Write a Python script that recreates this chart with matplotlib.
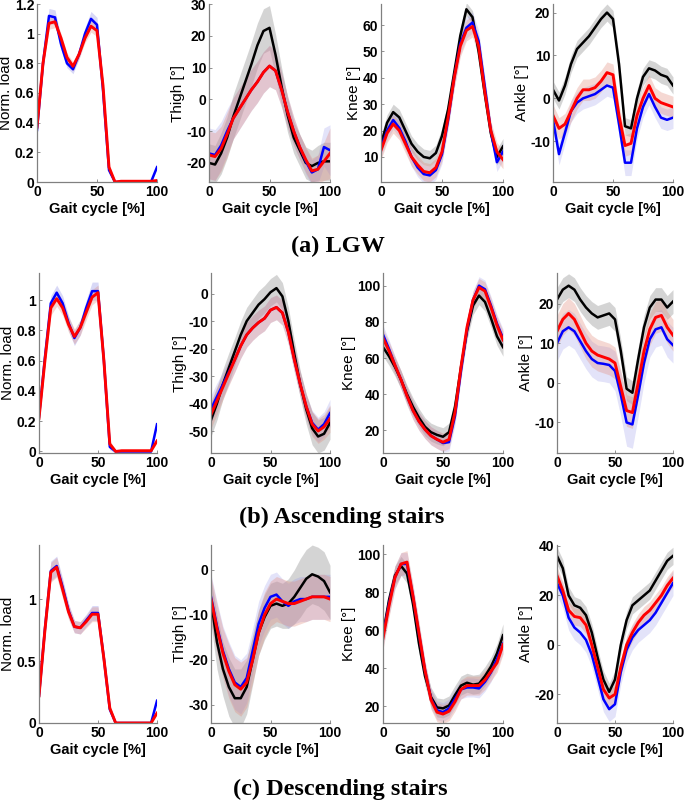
import numpy as np
import matplotlib.pyplot as plt
from matplotlib.ticker import FormatStrFormatter

# gait cycle sample points [%]
gait = [0, 5, 10, 15, 20, 25, 30, 35, 40, 45, 50, 55, 60, 65, 70, 75, 80, 85, 90, 95, 100]

###############################################################################
# (a) LGW
###############################################################################
lgw_load_blue = [0.35, 0.80, 1.12, 1.11, 0.93, 0.80, 0.76, 0.86, 1.00, 1.10, 1.06, 0.62, 0.08, 0.00, 0.00, 0.00, 0.00, 0.00, 0.00, 0.00, 0.10]
lgw_load_red = [0.37, 0.80, 1.07, 1.08, 0.97, 0.84, 0.78, 0.86, 0.97, 1.05, 1.02, 0.65, 0.10, 0.00, 0.005, 0.005, 0.005, 0.005, 0.005, 0.005, 0.01]
lgw_load_blue_sd = [0.02, 0.04, 0.05, 0.05, 0.04, 0.03, 0.03, 0.03, 0.04, 0.05, 0.05, 0.04, 0.02, 0.01, 0.01, 0.01, 0.01, 0.01, 0.01, 0.01, 0.01]
lgw_load_red_sd = [0.02, 0.03, 0.04, 0.04, 0.03, 0.03, 0.03, 0.03, 0.03, 0.04, 0.04, 0.03, 0.02, 0.01, 0.01, 0.01, 0.01, 0.01, 0.01, 0.01, 0.01]

lgw_thigh_black = [-20, -20.5, -17, -12, -5.5, 0, 5.5, 11, 17, 21.5, 22.5, 14, 4, -5, -12, -16, -20, -21, -20, -19.5, -19.5]
lgw_thigh_blue = [-17, -17.5, -14.5, -10, -6, -3, 0, 3, 5.5, 8.5, 10.5, 9, 3, -4, -10, -15, -19.5, -23, -22, -15, -16]
lgw_thigh_red = [-17.5, -18, -15.5, -11, -6, -3, 0, 3, 5.5, 8.5, 10.5, 9, 3, -4, -10, -15, -19, -22.5, -22, -19.5, -17]
lgw_thigh_black_sd = [6, 6, 6.5, 6.5, 7, 7, 7, 7, 7, 7, 7, 6.5, 6, 5.5, 5, 5, 5, 5, 5.5, 6, 6]
lgw_thigh_blue_sd = [8, 8, 7.5, 7, 6.5, 6.5, 6.5, 6.5, 6.5, 6.5, 6.5, 6, 5.5, 5, 4.5, 4, 4, 4, 4.5, 6, 8]
lgw_thigh_red_sd = [7.5, 7.5, 7, 7, 6.5, 6.5, 6.5, 6.5, 6.5, 6.5, 6.5, 6, 5.5, 5, 4.5, 4, 4, 4, 4.5, 6, 8]

lgw_knee_black = [15, 23, 27, 25, 20, 15, 12, 10, 9.5, 11.5, 18, 28, 42, 56, 66, 63, 50, 34, 19, 10, 14]
lgw_knee_blue = [13.5, 20, 24, 21, 16, 10, 6, 3.5, 3, 5, 11, 24, 40, 53, 59, 61, 54, 37, 20, 8, 12]
lgw_knee_red = [12.5, 19, 22.5, 20, 15, 10, 7, 4.5, 4, 6, 12, 25, 40, 52, 58, 59.5, 52, 35, 20, 12, 9]
lgw_knee_black_sd = [3, 3, 3, 3, 3, 3, 3, 3, 3, 3, 3, 3, 3, 3, 2.5, 2.5, 3, 3, 3, 3, 3]
lgw_knee_blue_sd = [3.5, 3.5, 3.5, 3.5, 3.5, 3.5, 3.5, 3.5, 3.5, 3.5, 3.5, 3.5, 4, 4, 4, 4, 4, 4, 3.5, 3.5, 3.5]
lgw_knee_red_sd = [3.5, 3.5, 3.5, 3.5, 3.5, 3.5, 3.5, 3.5, 3.5, 3.5, 3.5, 3.5, 4, 4, 4, 4, 4, 4, 3.5, 3.5, 3.5]

lgw_ankle_black = [2, -0.5, 3, 8, 11.5, 13, 14.5, 16.5, 18.5, 20, 18.5, 8, -6.5, -7, 0, 5, 7, 6.5, 5.5, 5, 3]
lgw_ankle_blue = [-5, -13, -8, -3, -1, 0, 0.5, 1, 2, 3, 2.5, -6, -15, -15, -7, -2, 1, -2, -4.5, -5, -4.5]
lgw_ankle_red = [-4, -7, -6, -3, 0, 2, 2, 2.5, 4, 6, 5.5, -4, -11, -10.5, -4, 0, 3, 0, -1, -1.5, -2]
lgw_ankle_black_sd = [2, 2, 2, 2, 2, 2, 2, 2, 2, 2, 2, 2, 2, 2, 2, 2, 2, 2, 2, 2, 2]
lgw_ankle_blue_sd = [2.5, 2.5, 2.5, 2.5, 2.5, 2.5, 2.5, 2.5, 2.5, 2.5, 2.5, 2.5, 3, 3, 2.5, 2.5, 2.5, 2.5, 2.5, 2.5, 2.5]
lgw_ankle_red_sd = [2.5, 2.5, 2.5, 2.5, 2.5, 2.5, 2.5, 2.5, 2.5, 2.5, 2.5, 2.5, 2.5, 2.5, 2.5, 2.5, 2.5, 2.5, 2.5, 2.5, 2.5]

###############################################################################
# (b) Ascending stairs
###############################################################################
asc_load_blue = [0.23, 0.62, 0.98, 1.05, 0.98, 0.85, 0.75, 0.82, 0.95, 1.06, 1.06, 0.60, 0.03, 0.00, 0.00, 0.00, 0.00, 0.00, 0.00, 0.00, 0.18]
asc_load_red = [0.22, 0.60, 0.95, 1.01, 0.95, 0.84, 0.76, 0.82, 0.92, 1.02, 1.05, 0.60, 0.05, 0.00, 0.005, 0.005, 0.005, 0.005, 0.005, 0.005, 0.07]
asc_load_blue_sd = [0.02, 0.04, 0.05, 0.05, 0.05, 0.05, 0.05, 0.05, 0.05, 0.06, 0.06, 0.04, 0.02, 0.01, 0.01, 0.01, 0.01, 0.01, 0.01, 0.01, 0.01]
asc_load_red_sd = [0.02, 0.04, 0.05, 0.05, 0.05, 0.05, 0.05, 0.05, 0.05, 0.05, 0.05, 0.04, 0.02, 0.01, 0.01, 0.01, 0.01, 0.01, 0.01, 0.01, 0.01]

asc_thigh_black = [-46, -40, -33, -27, -21, -15, -10, -7, -4, -2, 0.5, 2, -1, -10, -22, -33, -42, -49, -52, -51, -47]
asc_thigh_blue = [-42, -37.5, -33, -28.5, -24, -19, -15, -12.5, -10.5, -9, -6, -5, -7, -14, -24, -33, -41, -47, -49.5, -47.5, -43.5]
asc_thigh_red = [-44, -39, -34, -29, -24, -19, -15, -12.5, -10.5, -9, -6, -5, -7, -14, -24, -33, -41, -47.5, -50, -48.5, -45.5]
asc_thigh_black_sd = [6, 6, 5.5, 5.5, 5, 5, 5, 5, 5, 5, 5, 5, 5, 5, 5, 5, 5.5, 6, 6, 6, 6]
asc_thigh_blue_sd = [5, 5, 4.5, 4.5, 4.5, 4.5, 4.5, 4.5, 4.5, 4.5, 4.5, 4.5, 4.5, 4.5, 4.5, 4.5, 4.5, 4.5, 4.5, 4.5, 5]
asc_thigh_red_sd = [5, 5, 4.5, 4.5, 4.5, 4.5, 4.5, 4.5, 4.5, 4.5, 4.5, 4.5, 4.5, 4.5, 4.5, 4.5, 4.5, 4.5, 4.5, 4.5, 5]

asc_knee_black = [66, 61, 55, 48, 40, 33, 27, 22, 19, 17.5, 16.5, 19, 33, 55, 75, 89, 94.5, 91, 82, 72, 66]
asc_knee_blue = [73, 65, 56, 48, 39, 31, 25, 20.5, 17, 15, 13, 13.5, 28, 53, 76, 92, 100, 98, 89, 79, 71]
asc_knee_red = [71, 64, 56, 48, 39, 31, 25, 20.5, 17, 15, 13.5, 15, 30, 55, 77, 92, 99, 97, 88, 78, 70]
asc_knee_black_sd = [5, 5, 5, 5, 5, 5, 5, 5, 5, 5, 5, 5, 5, 5, 5, 5, 5, 5, 5, 5, 5]
asc_knee_blue_sd = [5, 5, 5, 5, 5, 5, 5, 5, 5, 5, 5, 5, 5, 5, 5, 5, 5, 5, 5, 5, 5]
asc_knee_red_sd = [5, 5, 5, 5, 5, 5, 5, 5, 5, 5, 5, 5, 5, 5, 5, 5, 5, 5, 5, 5, 5]

asc_ankle_black = [21, 23.5, 24.5, 23.5, 21, 19, 17.5, 16.5, 17, 17.5, 16, 8, -1.5, -2.5, 6, 14, 19, 21, 21, 19, 20.5]
asc_ankle_blue = [10, 13, 14, 13, 10.5, 8, 6, 5, 4.8, 4.5, 3, -3, -10, -10.5, -3, 5, 11, 13.5, 14, 11, 9.5]
asc_ankle_red = [13, 16, 17.5, 16, 13, 10, 8, 7, 6.5, 6, 5, -1, -7, -7.5, 0, 8, 13.5, 16.5, 17, 14, 12]
asc_ankle_black_sd = [3, 3, 3, 3, 3, 3, 3, 3, 3, 3, 3, 3, 3, 3, 3, 3, 3, 3, 3, 3, 3]
asc_ankle_blue_sd = [4.5, 4.5, 4.5, 4.5, 4.5, 4.5, 4.5, 4.5, 4.5, 4.5, 5, 5.5, 6, 6, 5.5, 5, 4.5, 4.5, 4.5, 4.5, 4.5]
asc_ankle_red_sd = [4, 4, 4, 4, 4, 4, 4, 4, 4, 4, 4, 4, 4, 4, 4, 4, 4, 4, 4, 4, 4]

###############################################################################
# (c) Descending stairs
###############################################################################
desc_load_blue = [0.22, 0.76, 1.23, 1.27, 1.10, 0.91, 0.78, 0.77, 0.83, 0.89, 0.89, 0.52, 0.11, 0.00, 0.00, 0.00, 0.00, 0.00, 0.00, 0.00, 0.18]
desc_load_red = [0.22, 0.75, 1.22, 1.26, 1.08, 0.90, 0.78, 0.77, 0.82, 0.88, 0.88, 0.52, 0.12, 0.00, 0.00, 0.00, 0.00, 0.00, 0.00, 0.00, 0.08]
desc_load_blue_sd = [0.03, 0.06, 0.08, 0.08, 0.07, 0.06, 0.05, 0.05, 0.05, 0.06, 0.06, 0.05, 0.03, 0.01, 0.01, 0.01, 0.01, 0.01, 0.01, 0.01, 0.01]
desc_load_red_sd = [0.03, 0.06, 0.08, 0.08, 0.07, 0.06, 0.05, 0.05, 0.05, 0.06, 0.06, 0.05, 0.03, 0.01, 0.01, 0.01, 0.01, 0.01, 0.01, 0.01, 0.01]

desc_thigh_black = [-7, -16, -22, -26, -28.5, -28.5, -26, -20, -14, -10.5, -8, -7.5, -8, -7.5, -6, -4, -2, -1, -1.5, -2.5, -5]
desc_thigh_blue = [-6, -12.5, -18, -22, -25, -26, -24, -18, -12, -8.5, -6, -5.5, -7, -8, -7, -6.5, -6.5, -6, -6, -6, -6]
desc_thigh_red = [-6.5, -13, -18.5, -22.5, -25.5, -26.5, -25, -20, -14, -10, -7.5, -6.5, -7, -7.5, -7.5, -7, -6.5, -6, -6, -6, -6.5]
desc_thigh_black_sd = [5, 6, 6, 6.5, 6.5, 6.5, 6, 5.5, 5, 5, 5, 5, 5, 5.5, 6, 6.5, 6.5, 6.5, 6.5, 6.5, 6]
desc_thigh_blue_sd = [5, 5.5, 5.5, 6, 6, 6, 5.5, 5, 5, 5, 5, 5, 5, 5, 5, 5, 5, 5, 5, 5, 5]
desc_thigh_red_sd = [5, 5.5, 5.5, 6, 6, 6, 5.5, 5, 5, 5, 5, 5, 5, 5, 5, 5, 5, 5, 5, 5, 5]

desc_knee_black = [58, 76, 89, 94, 90, 74, 53, 36, 25, 19.5, 19, 20.5, 26, 31, 32.5, 31.5, 32, 36, 41, 48, 57.5]
desc_knee_blue = [57, 74, 88, 95, 95, 78, 58, 39, 24, 18, 17, 19, 24, 29, 30, 30, 29.5, 33, 38, 45, 53]
desc_knee_red = [56, 73, 88, 95, 96, 78, 58.5, 39, 23.5, 17, 16, 17.5, 22.5, 29, 31, 31, 31, 34, 38.5, 43, 52.5]
desc_knee_black_sd = [5, 5, 5, 5, 5, 5, 5, 5, 5, 5, 5, 5, 5, 5, 5, 5, 5, 5, 5, 5, 6]
desc_knee_blue_sd = [6, 6, 6, 6, 6, 6, 6, 5, 5, 5, 5, 5, 5, 5, 5, 5, 5, 5, 5, 5, 5]
desc_knee_red_sd = [6, 6, 6, 6, 6, 6, 6, 5, 5, 5, 5, 5, 5, 5, 5, 5, 5, 5, 5, 5, 5]

desc_ankle_black = [36, 31, 20, 16, 15, 12, 5, -5, -14, -19, -14, 0, 10, 16, 18, 20, 22, 26, 30, 34, 36]
desc_ankle_blue = [25, 20, 11, 7, 5, 2, -4, -13, -22, -26, -24, -11, -2, 3, 6, 8, 10, 13, 17, 21, 25]
desc_ankle_red = [28, 22, 14, 11.5, 11, 8, 0, -9, -18, -21.5, -20, -9, 0, 5, 9, 12, 14, 17, 20, 24, 27]
desc_ankle_black_sd = [3.5, 3.5, 3.5, 3.5, 3.5, 3.5, 3.5, 3.5, 3.5, 3.5, 3.5, 3.5, 3.5, 3.5, 3.5, 3.5, 3.5, 3.5, 3.5, 3.5, 3.5]
desc_ankle_blue_sd = [5, 5, 5, 5, 5, 5, 5, 5, 5, 5, 5, 5, 5, 5, 5, 5, 5, 5, 5, 5, 5]
desc_ankle_red_sd = [3.5, 3.5, 3.5, 3.5, 3.5, 3.5, 3.5, 3.5, 3.5, 3.5, 3.5, 3.5, 3.5, 3.5, 3.5, 3.5, 3.5, 3.5, 3.5, 3.5, 3.5]

ylabels = ['Norm. load', 'Thigh [°]', 'Knee [°]', 'Ankle [°]']
captions = ['(a) LGW', '(b) Ascending stairs', '(c) Descending stairs']

###############################################################################
# Plot
###############################################################################
W, H = 685, 801
fig = plt.figure(figsize=(W / 100, H / 100), dpi=100)

band_gray = '#909090'
band_blue = '#9090e8'
band_red = '#e08878'


def panel(ax, lines, ylim, yticks, ylabel, fmt='%g'):
    # lines: list of (mean, sd, colour, band colour, band alpha, line width)
    for mean, sd, col, bcol, balpha, lw in lines:
        m = np.array(mean)
        s = np.array(sd)
        ax.fill_between(gait, m - s, m + s, color=bcol, alpha=balpha, lw=0)
        ax.plot(gait, m, color=col, lw=lw, solid_joinstyle='round')
    ax.set_xlim(0, 100)
    ax.set_ylim(*ylim)
    ax.set_xticks([0, 50, 100])
    ax.set_yticks(yticks)
    ax.yaxis.set_major_formatter(FormatStrFormatter(fmt))
    for side in ['top', 'right']:
        ax.spines[side].set_visible(False)
    for side in ['left', 'bottom']:
        ax.spines[side].set_color('#808080')
        ax.spines[side].set_linewidth(0.9)
    ax.tick_params(direction='in', length=2, width=0.6, color='#808080',
                   labelsize=10, pad=2)
    for lab in ax.get_xticklabels() + ax.get_yticklabels():
        lab.set_fontweight('bold')
        lab.set_family('Liberation Sans')
    ax.set_xlabel('Gait cycle [%]', fontsize=10.5, fontweight='bold',
                  family='Liberation Sans', labelpad=2)
    ax.set_ylabel(ylabel, fontsize=11, family='Liberation Sans', labelpad=1)


def add_axes(left, top, width, height):
    return fig.add_axes([left / W, 1 - (top + height) / H, width / W, height / H])


def three(black, black_sd, blue, blue_sd, red, red_sd):
    return [(black, black_sd, 'black', band_gray, 0.38, 1.8),
            (blue, blue_sd, '#0000ff', band_blue, 0.25, 1.8),
            (red, red_sd, '#ff0000', band_red, 0.32, 2.1)]


def two(blue, blue_sd, red, red_sd):
    return [(blue, blue_sd, '#0000ff', band_blue, 0.35, 1.8),
            (red, red_sd, '#ff0000', band_red, 0.32, 2.1)]


# row (a)
lefts_a = [37, 209, 381, 553]
ax = add_axes(lefts_a[0], 4, 120, 178)
panel(ax, two(lgw_load_blue, lgw_load_blue_sd, lgw_load_red, lgw_load_red_sd),
      (0, 1.2), [0, 0.2, 0.4, 0.6, 0.8, 1.0, 1.2], ylabels[0])
ax = add_axes(lefts_a[1], 4, 121, 178)
panel(ax, three(lgw_thigh_black, lgw_thigh_black_sd, lgw_thigh_blue, lgw_thigh_blue_sd,
                lgw_thigh_red, lgw_thigh_red_sd),
      (-26, 30), [-20, -10, 0, 10, 20, 30], ylabels[1])
ax = add_axes(lefts_a[2], 4, 122, 178)
panel(ax, three(lgw_knee_black, lgw_knee_black_sd, lgw_knee_blue, lgw_knee_blue_sd,
                lgw_knee_red, lgw_knee_red_sd),
      (0.5, 68), [10, 20, 30, 40, 50, 60], ylabels[2])
ax = add_axes(lefts_a[3], 4, 120, 178)
panel(ax, three(lgw_ankle_black, lgw_ankle_black_sd, lgw_ankle_blue, lgw_ankle_blue_sd,
                lgw_ankle_red, lgw_ankle_red_sd),
      (-19.5, 22), [-10, 0, 10, 20], ylabels[3])

# row (b)
lefts_b = [39, 211, 383, 557]
ax = add_axes(lefts_b[0], 273, 118, 180)
panel(ax, two(asc_load_blue, asc_load_blue_sd, asc_load_red, asc_load_red_sd),
      (-0.01, 1.18), [0, 0.2, 0.4, 0.6, 0.8, 1.0], ylabels[0])
ax = add_axes(lefts_b[1], 273, 119, 180)
panel(ax, three(asc_thigh_black, asc_thigh_black_sd, asc_thigh_blue, asc_thigh_blue_sd,
                asc_thigh_red, asc_thigh_red_sd),
      (-58, 7.5), [-50, -40, -30, -20, -10, 0], ylabels[1])
ax = add_axes(lefts_b[2], 273, 120, 180)
panel(ax, three(asc_knee_black, asc_knee_black_sd, asc_knee_blue, asc_knee_blue_sd,
                asc_knee_red, asc_knee_red_sd),
      (7.5, 107), [20, 40, 60, 80, 100], ylabels[2])
ax = add_axes(lefts_b[3], 273, 116, 180)
panel(ax, three(asc_ankle_black, asc_ankle_black_sd, asc_ankle_blue, asc_ankle_blue_sd,
                asc_ankle_red, asc_ankle_red_sd),
      (-17.7, 27.7), [-10, 0, 10, 20], ylabels[3])

# row (c)
ax = add_axes(lefts_b[0], 545, 118, 178)
panel(ax, two(desc_load_blue, desc_load_blue_sd, desc_load_red, desc_load_red_sd),
      (0, 1.44), [0, 0.5, 1.0], ylabels[0])
ax = add_axes(lefts_b[1], 545, 119, 178)
panel(ax, three(desc_thigh_black, desc_thigh_black_sd, desc_thigh_blue, desc_thigh_blue_sd,
                desc_thigh_red, desc_thigh_red_sd),
      (-34, 5.5), [-30, -20, -10, 0], ylabels[1])
ax = add_axes(lefts_b[2], 545, 120, 178)
panel(ax, three(desc_knee_black, desc_knee_black_sd, desc_knee_blue, desc_knee_blue_sd,
                desc_knee_red, desc_knee_red_sd),
      (11.3, 105), [20, 40, 60, 80, 100], ylabels[2])
ax = add_axes(lefts_b[3], 545, 116, 178)
panel(ax, three(desc_ankle_black, desc_ankle_black_sd, desc_ankle_blue, desc_ankle_blue_sd,
                desc_ankle_red, desc_ankle_red_sd),
      (-31.6, 40.4), [-20, 0, 20, 40], ylabels[3])

# captions
for cap, xc, yc in zip(captions, [338, 342, 340], [246, 517, 789]):
    fig.text(xc / W, 1 - yc / H, cap, ha='center', va='center', fontsize=17.5,
             fontweight='bold', family='Liberation Serif')

plt.savefig('out.png', dpi=100)
